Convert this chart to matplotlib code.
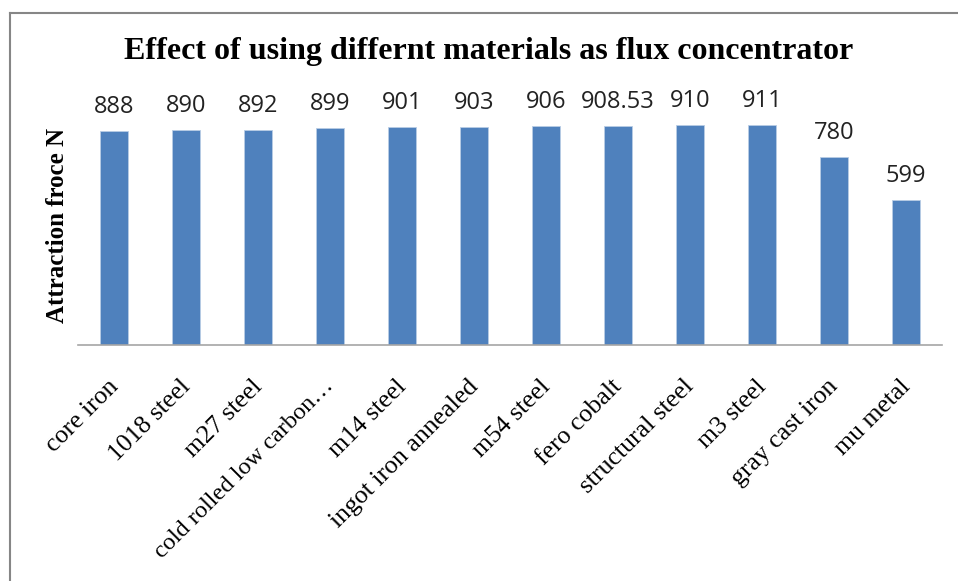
import matplotlib
matplotlib.use("Agg")
import matplotlib.pyplot as plt
from matplotlib.lines import Line2D
from matplotlib.transforms import ScaledTranslation

materials = [
    "core iron",
    "1018 steel",
    "m27 steel",
    "cold rolled low carbon…",
    "m14 steel",
    "ingot iron annealed",
    "m54 steel",
    "fero cobalt",
    "structural steel",
    "m3 steel",
    "gray cast iron",
    "mu metal",
]
force = [888, 890, 892, 899, 901, 903, 906, 908.53, 910, 911, 780, 599]
force_labels = ["888", "890", "892", "899", "901", "903", "906", "908.53",
                "910", "911", "780", "599"]

fig = plt.figure(figsize=(9.58, 5.81), dpi=100)
ax = fig.add_axes([78 / 958, 236 / 581, 864 / 958, 241.4 / 581])

x = range(len(materials))
bars = ax.bar(x, force, width=0.4, color="#4F81BD",
              edgecolor="#B9CDE5", linewidth=0.6)

for b, lab in zip(bars, force_labels):
    ax.annotate(lab, (b.get_x() + b.get_width() / 2, b.get_height()),
                xytext=(0, 13), textcoords="offset points",
                ha="center", va="baseline", fontsize=17,
                family="Open Sans", color="#222222")

ax.set_xlim(-0.5, len(materials) - 0.5)
ax.set_ylim(0, 1000)
ax.set_yticks([])
ax.set_xticks(list(x))
ax.set_xticklabels(materials, rotation=45, ha="right", va="top",
                   rotation_mode="anchor", fontsize=18.5,
                   family="Liberation Serif")
ax.tick_params(axis="x", length=0, pad=22)
# nudge the slanted labels a little to the left
shift = ScaledTranslation(-7 / 100, 0, fig.dpi_scale_trans)
for t in ax.get_xticklabels():
    t.set_transform(t.get_transform() + shift)
    if t.get_text().endswith("…"):
        t.set_fontsize(17.6)
for s in ["top", "right", "left"]:
    ax.spines[s].set_visible(False)
ax.spines["bottom"].set_color("#A6A6A6")
ax.spines["bottom"].set_linewidth(1.2)

fig.text(489 / 958, 1 - 52 / 581,
         "Effect of using differnt materials as flux concentrator",
         ha="center", va="center", fontsize=23, fontweight="bold",
         family="Liberation Serif")
fig.text(58 / 958, 1 - 225 / 581, "Attraction froce N", rotation=90,
         ha="center", va="center", fontsize=18, fontweight="bold",
         family="Liberation Serif")

# chart frame (left and top edges)
fig.add_artist(Line2D([9.5 / 958, 9.5 / 958], [0, 1 - 13 / 581],
                      transform=fig.transFigure, color="#868686", lw=1.5))
fig.add_artist(Line2D([9.5 / 958, 1], [1 - 13 / 581, 1 - 13 / 581],
                      transform=fig.transFigure, color="#868686", lw=1.5))

fig.savefig("out.png", dpi=100)
